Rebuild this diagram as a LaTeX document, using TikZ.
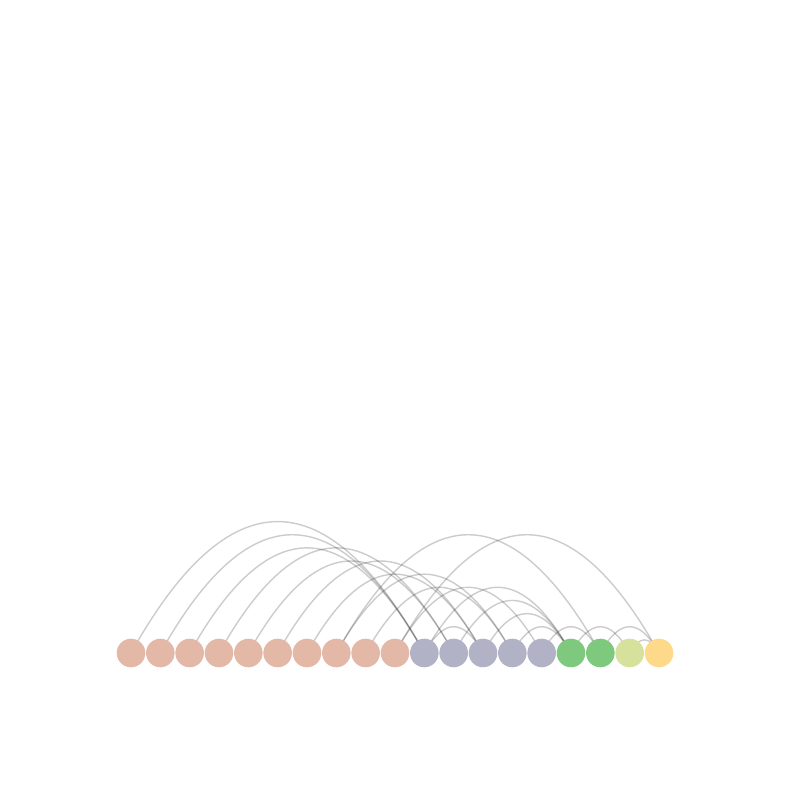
\documentclass[tikz,border=0pt]{standalone}
\usetikzlibrary{calc,backgrounds}
\definecolor{salmon}{RGB}{228,184,166}
\definecolor{slate}{RGB}{178,178,198}
\definecolor{leaf}{RGB}{127,201,127}
\definecolor{lime}{RGB}{214,226,156}
\definecolor{sand}{RGB}{254,217,138}
\tikzset{
    dot/.style={circle, inner sep=0pt, minimum size=0.286cm},
    link/.style={draw=black!80, opacity=0.25, line width=0.4pt}
}
\begin{document}
\begin{tikzpicture}
    \useasboundingbox (0,0) rectangle (8,8);
    \foreach \i in {0,...,9}
        \node[dot, fill=salmon] (n\i) at (1.31+0.29333*\i, 1.47) {};
    \foreach \i in {10,...,14}
        \node[dot, fill=slate] (n\i) at (1.31+0.29333*\i, 1.47) {};
    \foreach \i in {15,16}
        \node[dot, fill=leaf] (n\i) at (1.31+0.29333*\i, 1.47) {};
    \node[dot, fill=lime] (n17) at (1.31+0.29333*17, 1.47) {};
    \node[dot, fill=sand] (n18) at (1.31+0.29333*18, 1.47) {};

    \begin{scope}[on background layer]
    \foreach \a/\b in {0/10,1/10,2/10,3/11,4/11,5/12,6/12,7/13,8/13,9/14,7/16,9/18,
                       10/15,11/15,12/15,13/15,14/16,10/12,
                       15/17,16/18,17/18}
        \draw[link] (n\a.center) .. controls ($(n\a)!1/3!(n\b)+(0,0.1752*\b-0.1752*\a)$)
            and ($(n\a)!2/3!(n\b)+(0,0.1752*\b-0.1752*\a)$) .. (n\b.center);
    \end{scope}
\end{tikzpicture}
\end{document}
